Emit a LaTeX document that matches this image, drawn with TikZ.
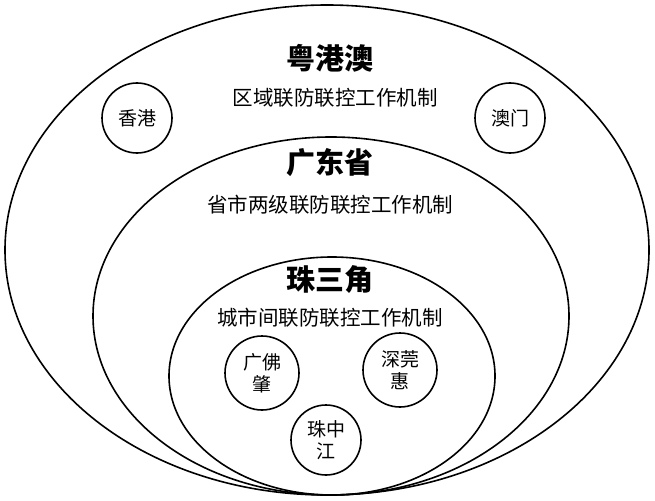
\documentclass[tikz,border=0pt]{standalone}
\usepackage{fontspec}
\newfontfamily\cjk{Noto Sans CJK SC}
\begin{document}
\begin{tikzpicture}[x=1pt,y=-1pt,line width=1.6pt,
  ring/.style={draw=black},
  small/.style={circle,draw=black,minimum size=70pt,inner sep=0pt,font=\cjk\fontsize{19}{22}\selectfont,align=center},
  title/.style={font=\cjk\bfseries\fontsize{29}{31}\selectfont},
  sub/.style={font=\cjk\fontsize{20.5}{22}\selectfont}]
\useasboundingbox (0,0) rectangle (655,500);
\draw[ring] (327,250) ellipse [x radius=322, y radius=245];
\draw[ring] (331,316) ellipse [x radius=238, y radius=179];
\draw[ring] (332,376) ellipse [x radius=163, y radius=119];
\node[small] (hk) at (137,118) {香港};
\node[small] (mo) at (510,118) {澳门};
\node[small,minimum size=74pt] (gfz) at (262,373) {广佛\\肇};
\node[small,minimum size=74pt] (sgh) at (400,370) {深莞\\惠};
\node[small] (zzj) at (326,440) {珠中\\江};
\node[title] (t1) at (330,58) {粤港澳};
\node[sub] (s1) at (335,98) {区域联防联控工作机制};
\node[title] (t2) at (330,163) {广东省};
\node[sub] (s2) at (330,205) {省市两级联防联控工作机制};
\node[title] (t3) at (330,280) {珠三角};
\node[sub] (s3) at (330,318) {城市间联防联控工作机制};
\end{tikzpicture}
\end{document}
